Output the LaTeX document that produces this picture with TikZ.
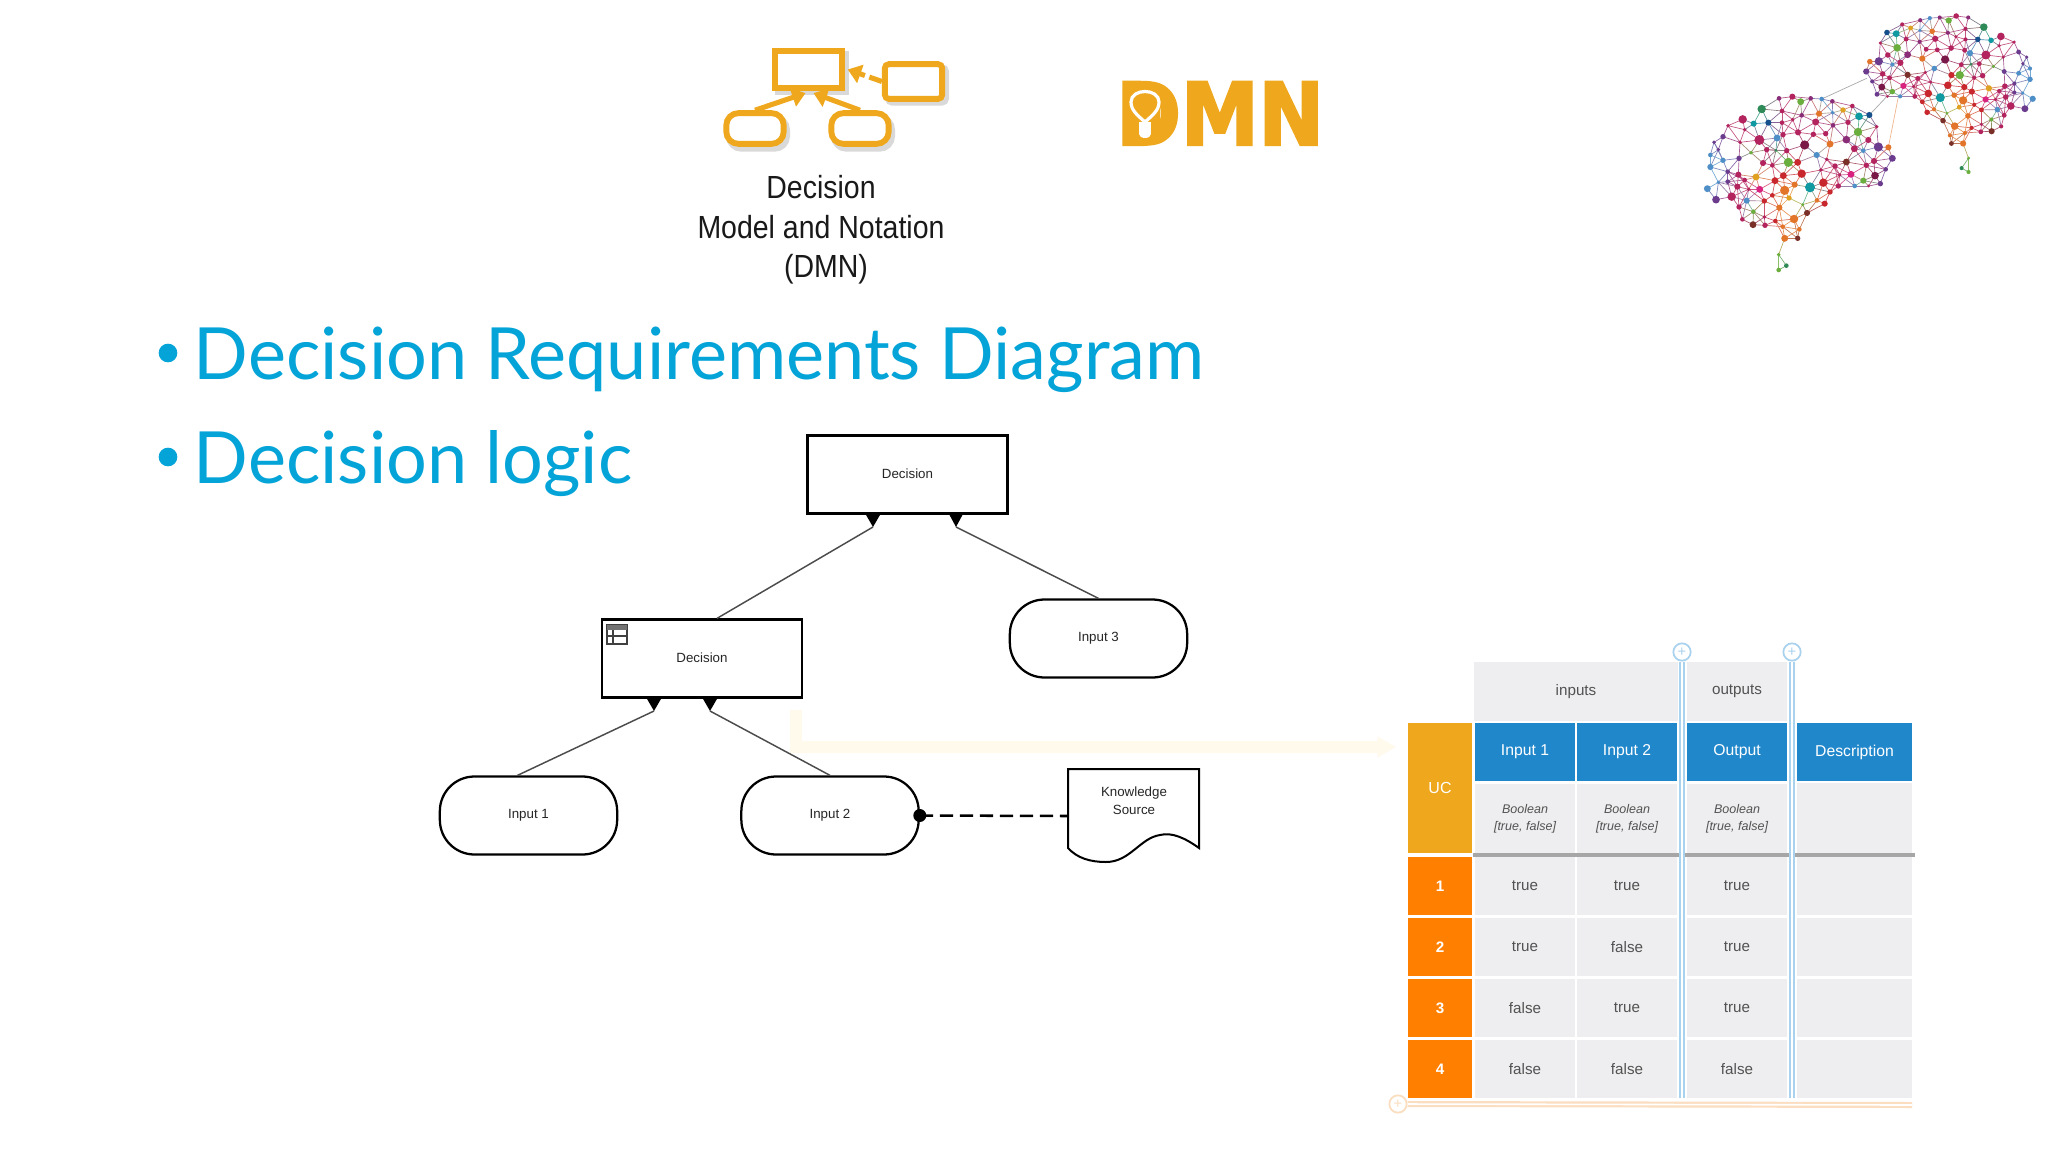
\documentclass[tikz,border=0pt]{standalone}
\usepackage{fontspec}
\usetikzlibrary{arrows.meta,calc}
\setmainfont{Liberation Sans}
\newfontfamily\titlef{Lato}
\newfontfamily\narrowf[FakeStretch=0.89]{Liberation Sans}
\newfontfamily\logof[FakeStretch=0.9,FakeBold=2.5]{DejaVu Sans Bold}
\newcommand{\fsz}[1]{\fontsize{#1}{#1}\selectfont}
\definecolor{dmngold}{HTML}{EFA81E}
\definecolor{titleblue}{HTML}{04A4D8}
\definecolor{tblblue}{HTML}{2187CB}
\definecolor{tblgray}{HTML}{EEEEF0}
\definecolor{tblorange}{HTML}{FF7F00}
\definecolor{cream}{HTML}{FFFAEC}
\definecolor{palebl}{HTML}{A9D2EE}
\definecolor{paleor}{HTML}{FBDDBF}
\definecolor{cA}{HTML}{B3245F}\definecolor{cB}{HTML}{8A2C78}\definecolor{cC}{HTML}{C8282D}
\definecolor{cD}{HTML}{E2752A}\definecolor{cE}{HTML}{0E9AA0}\definecolor{cF}{HTML}{6AAE3E}
\definecolor{cG}{HTML}{4E8FC8}\definecolor{cH}{HTML}{6B3B8E}\definecolor{cI}{HTML}{7A1848}
\definecolor{cJ}{HTML}{D8247F}\definecolor{cK}{HTML}{E0A020}\definecolor{cL}{HTML}{7A3028}
\definecolor{cM}{HTML}{15508C}\definecolor{cN}{HTML}{2E8B57}
\tikzset{
  decbox/.style={draw,line width=1.7pt,minimum width=150pt,minimum height=58.5pt,inner sep=0pt,text=black!85,font=\fsz{10pt}},
  inbox/.style={draw,line width=1.7pt,rounded corners=26pt,minimum width=133pt,minimum height=58.5pt,inner sep=0pt,text=black!85,font=\fsz{10pt}},
  conn/.style={line width=1.1pt,draw=black!70},
  tip/.style={fill=black},
  cell/.style={fill=tblgray,inner sep=0pt,text=black!68,font=\fsz{11.4pt}},
  headc/.style={fill=tblblue,inner sep=0pt,text=white,font=\fsz{11.8pt}},
  sidec/.style={fill=tblorange,inner sep=0pt,text=white,font=\bfseries\fsz{11.4pt}},
  guide/.style={draw=palebl,line width=4.5pt},
  guidein/.style={draw=white,line width=1.2pt},
  plusc/.style={draw=palebl,line width=1.3pt,fill=white,circle,minimum size=13pt,inner sep=0pt},
  icobox/.style={draw=dmngold,line width=4.4pt,fill=white,inner sep=0pt},
  icoshade/.style={draw=black!15,line width=5pt,fill=black!2,inner sep=0pt},
  icoline/.style={draw=dmngold,line width=3.8pt,-{Triangle[length=10pt,width=14pt]}},
  ttl/.style={anchor=base west,text=titleblue,inner sep=0pt,font=\titlef\fsz{54pt}},
  bulletc/.style={fill=titleblue,circle,minimum size=14pt,inner sep=0pt},
  capt/.style={inner sep=0pt,anchor=base,text=black!90,font=\narrowf\fsz{24pt}},
}
\newcommand{\branlist}{%
1/297/295/6/cB,2/337/290/8/cA,3/362/305/9/cF,4/392/295/6/cB,5/425/297/6/cG,6/457/304/6/cB,7/517/318/6/cA,8/245/327/11/cN,9/188/358/11/cA,10/144/377/5/cA,%
11/129/410/7/cH,12/102/427/5/cH,13/91/465/6/cG,14/115/449/5/cH,15/91/501/8/cG,16/129/481/7/cG,17/143/515/6/cH,18/115/547/5/cG,19/143/545/6/cH,20/82/566/9/cG,%
21/108/599/10/cH,22/155/590/11/cA,23/200/602/8/cG,24/177/621/7/cA,25/220/635/6/cF,26/187/658/6/cA,27/219/674/9/cL,28/255/676/7/cA,29/253/651/5/cA,30/286/663/6/cC,%
31/308/680/6/cD,32/342/657/11/cD,33/358/688/6/cD,34/381/639/8/cL,35/314/715/9/cD,36/353/715/7/cL,37/296/764/5/cF,38/319/797/6/cN,39/296/810/6/cF,40/434/611/8/cC,%
41/450/576/7/cC,42/411/601/6/cD,43/368/614/4/cF,44/298/623/8/cD,45/327/594/7/cK,46/253/603/7/cC,47/277/586/6/cC,48/314/571/12/cD,49/344/554/8/cD,50/390/562/13/cE,%
51/430/548/11/cC,52/365/521/11/cC,53/310/527/9/cC,54/285/542/9/cC,55/239/568/9/cJ,56/206/568/5/cA,57/172/560/8/cA,58/194/540/6/cA,59/228/531/9/cK,60/175/524/8/cA,%
61/177/475/7/cH,62/213/458/5/cF,63/249/489/8/cA,64/277/496/6/cA,65/325/487/12/cF,66/353/487/9/cC,67/260/449/7/cA,68/288/451/4/cN,69/320/452/7/cA,70/374/435/12/cI,%
71/410/465/8/cG,72/450/432/9/cD,73/400/403/7/cA,74/437/401/7/cA,75/354/397/8/cA,76/309/404/7/cA,77/291/414/9/cG,78/238/420/13/cA,79/180/427/5/cA,80/194/389/5/cA,%
81/221/371/8/cE,82/265/368/8/cM,83/306/368/6/cA,84/306/333/6/cA,85/338/359/5/cA,86/365/346/6/cB,87/417/341/8/cD,88/458/338/5/cG,89/489/330/7/cK,90/407/366/9/cA,%
91/459/376/6/cB,92/504/367/7/cA,93/537/349/10/cE,94/568/345/8/cM,95/590/380/5/cA,96/534/396/11/cF,97/499/419/10/cB,98/565/420/8/cA,99/595/441/12/cH,100/625/442/8/cD,%
101/637/475/9/cH,102/617/508/6/cH,103/601/551/7/cH,104/566/558/4/cA,105/524/558/6/cG,106/550/542/8/cF,107/585/527/10/cI,108/582/483/8/cA,109/559/496/7/cA,110/550/452/6/cG,%
111/523/446/9/cA,112/499/486/9/cL,113/465/498/7/cA,114/513/523/9/cJ,115/479/525/5/cA,116/422/510/5/cA,117/475/558/7/cA,118/440/478/5/cA}
\newcommand{\bransize}{118}
\begin{document}
\begin{tikzpicture}[x=0.75pt,y=-0.75pt]
\path[use as bounding box,fill=white] (0,0) rectangle (2048,1152);
\foreach \i/\x/\y/\r/\c in \branlist {%
  \expandafter\xdef\csname bx\i\endcsname{\x}%
  \expandafter\xdef\csname by\i\endcsname{\y}%
  \expandafter\xdef\csname bc\i\endcsname{\c}%
}
\newcommand{\drawbrain}{%
  \foreach \i in {1,...,\bransize} {%
    \pgfmathtruncatemacro\first{\i+1}%
    \ifnum\i<\bransize
    \foreach \j in {\first,...,\bransize} {%
      \pgfmathsetmacro\dd{veclen(\csname bx\i\endcsname-\csname bx\j\endcsname,\csname by\i\endcsname-\csname by\j\endcsname)}%
      \ifdim\dd pt<62pt
        \draw[line width=0.5pt,draw=\csname bc\i\endcsname!50!\csname bc\j\endcsname!78!white]
          (\csname bx\i\endcsname,\csname by\i\endcsname) -- (\csname bx\j\endcsname,\csname by\j\endcsname);
      \fi
    }%
    \fi
  }%
  \foreach \i/\x/\y/\r/\c in \branlist { \fill[\c] (\x,\y) circle[radius=1.15*\r]; }%
}
\begin{scope}[shift={(1680,0)},x=0.25pt,y=-0.25pt]
  \draw[line width=.5pt,draw=black!35] (425,297) -- (560,235);
  \draw[line width=.5pt,draw=black!35] (568,345) -- (620,290);
  \draw[line width=.5pt,draw=cD!55!white] (625,442) -- (655,290);
  \drawbrain
\end{scope}
\begin{scope}[shift={(2057.3,-71)},x=-0.225pt,y=-0.225pt]
  \drawbrain
\end{scope}
% DMN icon: soft shadows first
\node[icoshade,minimum width=50pt,minimum height=28pt] (sD) at (812,73) {};
\node[icoshade,minimum width=43pt,minimum height=26pt,rounded corners=3pt] (sR) at (917,85) {};
\node[icoshade,minimum width=43pt,minimum height=23pt,rounded corners=9pt] (sL) at (758,133) {};
\node[icoshade,minimum width=43pt,minimum height=23pt,rounded corners=9pt] (sM) at (863,133) {};
\node[icobox,minimum width=50pt,minimum height=28pt] (iD) at (808.5,69.5) {};
\node[icobox,minimum width=43pt,minimum height=26pt,rounded corners=3pt] (iR) at (913.5,81.5) {};
\node[icobox,minimum width=43pt,minimum height=23pt,rounded corners=9pt] (iL) at (755,128.5) {};
\node[icobox,minimum width=43pt,minimum height=23pt,rounded corners=9pt] (iM) at (860,128.5) {};
\draw[icoline] (iL.north) -- ($(iD.south)+(-3,2)$);
\draw[icoline] (iM.north) -- ($(iD.south)+(5,2)$);
\draw[icoline,dash pattern=on 10pt off 3.5pt on 20pt off 0pt] (iR.west) -- ($(iD.east)+(3,0)$);
% caption
\node[capt] (cap1) at (821,199) {Decision};
\node[capt] (cap2) at (821,238) {Model and Notation};
\node[capt] (cap3) at (826,277) {(DMN)};
% logo
\fill[dmngold] (1135,90) rectangle (1160,140);
\node[inner sep=0pt,anchor=base west,text=dmngold,font=\logof\fsz{65pt}] (logo) at (1116,145) {DMN};
\draw[white,line width=2.4pt,fill=dmngold] (1145,122) .. controls (1137,115) and (1131,110) .. (1131,102)
  .. controls (1131,88) and (1159,88) .. (1159,102) .. controls (1159,110) and (1153,115) .. (1145,122) -- cycle;
\fill[white] (1139,122) rectangle (1151,134);
\fill[white] (1145,134) ellipse[x radius=6,y radius=4];
% titles
\node[bulletc] (bul1) at (168,353) {};
\node[ttl] (t1) at (193.5,379) {Decision Requirements Diagram};
\node[bulletc] (bul2) at (168,457) {};
\node[ttl] (t2) at (193.5,483) {Decision logic};
% pale connector
\coordinate (creamA) at (796,710);
\coordinate (creamB) at (796,747);
\coordinate (creamC) at (1396,747);
\draw[cream,line width=8.5pt,-{Triangle[length=14pt,width=15pt]}] (creamA) -- (creamB) -- (creamC);
% decision requirements diagram
\node[decbox] (dtop) at (907.5,474.5) {\raisebox{1pt}{Decision}\hspace{3pt}};
\node[decbox] (dlow) at (702,658.5) {\raisebox{1pt}{Decision}\hspace{1pt}};
\node[inbox] (in3) at (1098.5,638.5) {Input 3\hspace{5pt}};
\node[inbox] (in1) at (528.5,815.5) {Input 1\hspace{4pt}};
\node[inbox] (in2) at (830,815.5) {Input 2\hspace{5pt}};
\coordinate (ksA) at (1068,769);
\node[inner sep=0pt,font=\fsz{10pt},align=center,text=black!85] (ks) at (1134,801) {Knowledge\\[3.2pt]Source};
\draw[line width=1.5pt] (ksA) -- (1199,769) -- (1199,848) .. controls (1185,838) and (1172,832) .. (1160,835)
  .. controls (1140,838) and (1130,862) .. (1106,862) .. controls (1090,862) and (1077,858) .. (1068,848) -- cycle;
% decision-table icon
\draw[line width=.9pt,draw=black!75] (607,625) rectangle (627,644);
\fill[black!55] (607,625) rectangle (627,630);
\draw[line width=.9pt,draw=black!75] (607,636) -- (627,636) (613,630) -- (613,644);
% connectors
\coordinate (a1) at (873,527);
\coordinate (a2) at (956,527);
\coordinate (a3) at (654,711);
\coordinate (a4) at (710,711);
\draw[conn] ($(dlow.north)+(15,0)$) -- (a1);
\draw[conn] (in3.north) -- (a2);
\draw[conn] ($(in1.north)+(-11,0)$) -- (a3);
\draw[conn] (in2.north) -- (a4);
\fill[tip] (865.5,514) -- (880.5,514) -- (a1) -- cycle;
\fill[tip] (949,514) -- (963,514) -- (a2) -- cycle;
\fill[tip] (646.5,698) -- (661.5,698) -- (a3) -- cycle;
\fill[tip] (702.5,698) -- (717.5,698) -- (a4) -- cycle;
\coordinate (ksE) at (1068,816);
\draw[line width=1.9pt,dash pattern=on 10pt off 5pt] (in2.east) -- (ksE);
\fill (in2.east) circle[radius=6.5];
% table
\node[cell,minimum width=153pt,minimum height=44pt] (hI) at (1576,691.5) {inputs};
\node[cell,minimum width=75pt,minimum height=44pt] (hO) at (1737,691.5) {\raisebox{-1pt}{outputs}};
\node[fill=dmngold,inner sep=0pt,text=white,minimum width=48.5pt,minimum height=97.5pt,font=\fsz{12pt}] (uc) at (1440,788) {UC};
\node[headc,minimum width=75pt,minimum height=43.5pt] (h1) at (1525,752) {\raisebox{-1pt}{Input 1}};
\node[headc,minimum width=75pt,minimum height=43.5pt] (h2) at (1627,752) {\raisebox{-1pt}{Input 2}};
\node[headc,minimum width=75pt,minimum height=43.5pt] (h3) at (1737,752) {\raisebox{-1pt}{Output}};
\node[headc,minimum width=86pt,minimum height=43.5pt] (h4) at (1854.5,752) {Description};
\foreach \n/\xc/\w in {1/1525/75,2/1627/75,3/1737/75} {
  \node[cell,minimum width=\w pt,minimum height=52.5pt,align=center,font=\itshape\fsz{9.4pt}] (ty\n) at (\xc,818.5) {Boolean\\[3pt][true, false]};
}
\node[cell,minimum width=86pt,minimum height=52.5pt] (ty4) at (1854.5,818) {};
\coordinate (lineA) at (1473,855);
\coordinate (lineB) at (1915,855);
\draw[draw=black!35,line width=3pt] (lineA) -- (lineB);
\foreach \r/\yc/\va/\vb/\vc in {1/886/true/true/true,2/947/true/false/true,3/1008/false/true/true,4/1069/false/false/false} {
  \node[sidec,minimum width=48.5pt,minimum height=44pt] (s\r) at (1440,\yc) {\r};
  \node[cell,minimum width=75pt,minimum height=44pt] (r\r a) at (1525,\yc) {\va};
  \node[cell,minimum width=75pt,minimum height=44pt] (r\r b) at (1627,\yc) {\vb};
  \node[cell,minimum width=75pt,minimum height=44pt] (r\r c) at (1737,\yc) {\vc};
  \node[cell,minimum width=86pt,minimum height=44pt] (r\r d) at (1854.5,\yc) {};
}
% guides
\node[plusc,text=palebl,font=\fsz{11pt}] (g1) at (1682,652) {+};
\node[plusc,text=palebl,font=\fsz{11pt}] (g2) at (1792,652) {+};
\node[plusc,draw=paleor,text=paleor,font=\fsz{11pt}] (g3) at (1398,1104) {+};
\coordinate (g1e) at (1682,1098);
\coordinate (g2e) at (1792,1098);
\coordinate (g3e) at (1912,1105);
\draw[guide] (g1) -- (g1e); \draw[guidein] (g1) -- (g1e);
\draw[guide] (g2) -- (g2e); \draw[guidein] (g2) -- (g2e);
\draw[draw=paleor,line width=4.5pt] (g3) -- (g3e); \draw[draw=white,line width=1.2pt] (g3) -- (g3e);
\end{tikzpicture}
\end{document}
